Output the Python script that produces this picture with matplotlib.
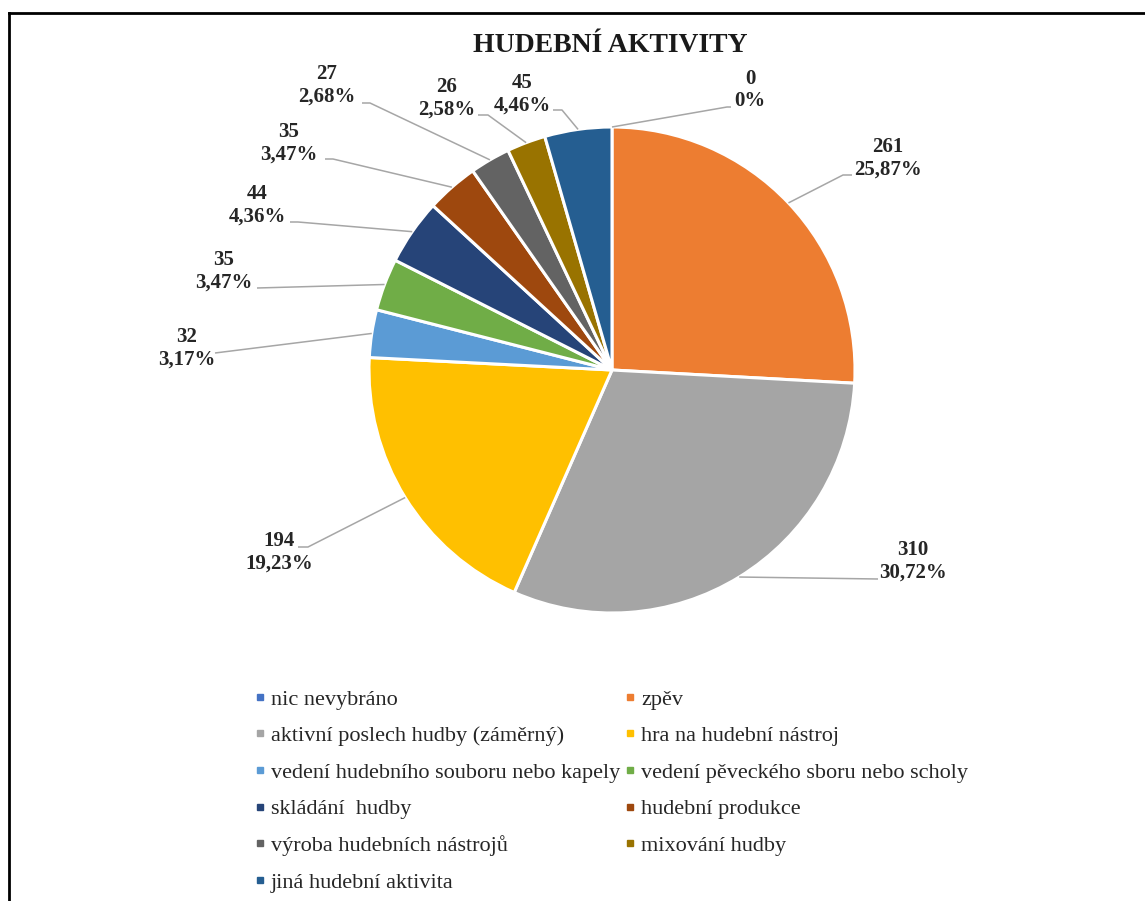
import matplotlib
matplotlib.use("Agg")
import matplotlib.pyplot as plt
from matplotlib.lines import Line2D
import numpy as np

# ---------------- data ----------------
categories = [
    "nic nevybráno",
    "zpěv",
    "aktivní poslech hudby (záměrný)",
    "hra na hudební nástroj",
    "vedení hudebního souboru nebo kapely",
    "vedení pěveckého sboru nebo scholy",
    "skládání  hudby",
    "hudební produkce",
    "výroba hudebních nástrojů",
    "mixování hudby",
    "jiná hudební aktivita",
]
values = [0, 261, 310, 194, 32, 35, 44, 35, 27, 26, 45]
colors = ["#4472C4", "#ED7D31", "#A5A5A5", "#FFC000", "#5B9BD5", "#70AD47",
          "#264478", "#9E480E", "#636363", "#997300", "#255E91"]
title = "HUDEBNÍ AKTIVITY"

# ---------------- layout (pixel coordinates, y downward) ----------------
W, H = 1145, 901
CX, CY, R = 612, 370, 243
# label text centres and leader-line end points
label_pos = [(750, 90), (888, 158), (913, 561), (279, 552), (187, 348), (224, 271),
             (257, 205), (289, 143), (327, 85), (447, 98), (522, 94)]
line_end = [(731, 107), (852, 175), (878, 579), (298, 547), (215, 353), (257, 288),
            (290, 222), (325, 159), (362, 103), (478, 115), (553, 110)]
elbow_dx = [-4, -9, 0, 10, 0, 0, 8, 8, 8, 10, 9]

serif = ["Liberation Serif", "DejaVu Serif"]
plt.rcParams["font.family"] = serif

def P(y):
    return H - y

fig = plt.figure(figsize=(W / 100, H / 100), dpi=100)
ax = fig.add_axes([0, 0, 1, 1])

wedges, _ = ax.pie(values, colors=colors, startangle=90, counterclock=False,
                   center=(CX, P(CY)), radius=R,
                   wedgeprops=dict(edgecolor="white", linewidth=2.2))
ax.set_xlim(0, W)
ax.set_ylim(0, H)
ax.set_aspect("equal")
ax.axis("off")

total = sum(values)
for i, (w, v) in enumerate(zip(wedges, values)):
    mid = np.deg2rad((w.theta1 + w.theta2) / 2.0)
    sx = CX + R * np.cos(mid)
    sy = P(CY) + R * np.sin(mid)
    ex, ey = line_end[i]
    xs = [sx, ex + elbow_dx[i], ex]
    ys = [sy, P(ey), P(ey)]
    ax.plot(xs, ys, color="#A6A6A6", lw=1.1, solid_capstyle="butt", zorder=1)
    pct = v / total * 100
    ptxt = "0%" if v == 0 else f"{pct:.2f}".replace(".", ",") + "%"
    lx, ly = label_pos[i]
    ax.text(lx, P(ly), f"{v}\n{ptxt}", ha="center", va="center", fontsize=15,
            fontweight="bold", color="#262626", linespacing=1.15, zorder=3)

ax.text(610, P(45), title, ha="center", va="center", fontsize=20,
        fontweight="bold", color="#1a1a1a")

# frame lines (top and left)
ax.plot([9, W], [P(13), P(13)], color="black", lw=2)
ax.plot([9, 9], [P(13), 0], color="black", lw=2)

# legend (row-major order like Excel)
handles = [Line2D([], [], marker="s", linestyle="none", markersize=5,
                  markerfacecolor=c, markeredgecolor=c) for c in colors]
order = [0, 2, 4, 6, 8, 10, 1, 3, 5, 7, 9]
fig.legend([handles[k] for k in order], [categories[k] for k in order],
           ncol=2, loc="upper left", bbox_to_anchor=(243 / W, 1 - 678 / H),
           frameon=False, fontsize=16, handlelength=0.5, handletextpad=0.25,
           columnspacing=0.2, labelspacing=0.72, borderpad=0,
           labelcolor="#262626")

fig.savefig("out.png", dpi=100)
